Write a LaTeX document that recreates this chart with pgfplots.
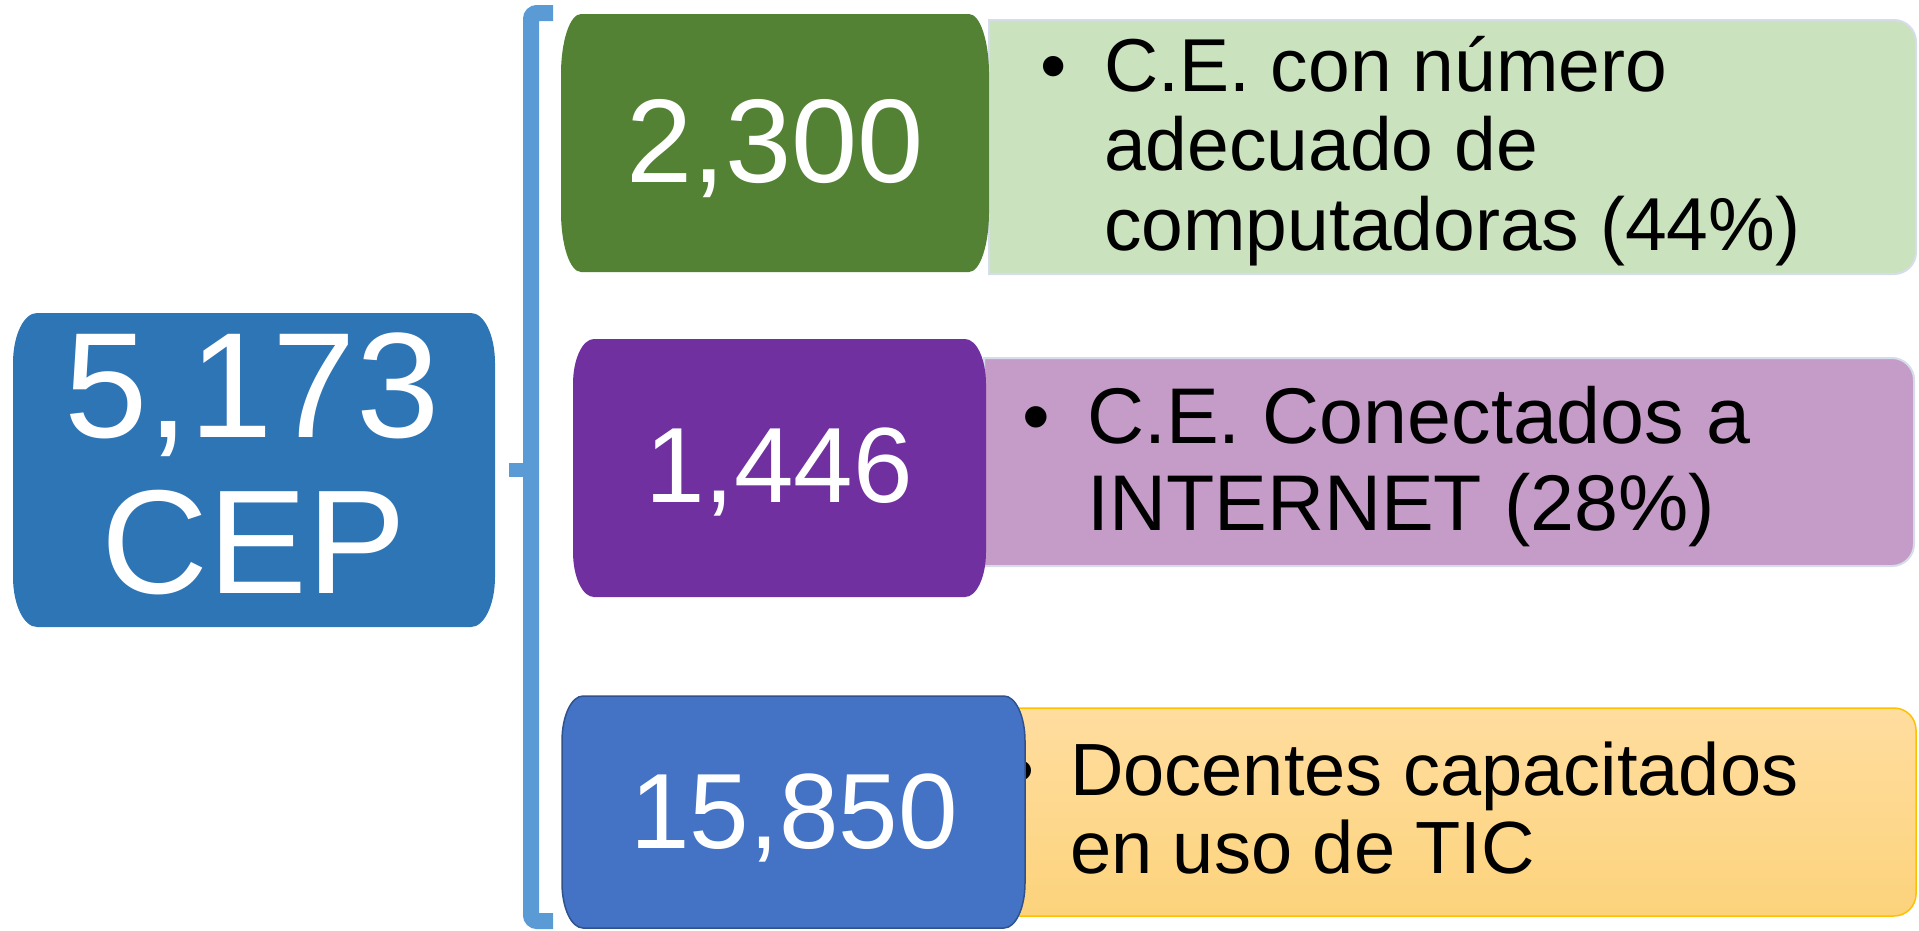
\documentclass[border=0pt]{standalone}
\usepackage{pgfplots}
\pgfplotsset{compat=1.18}
\usepackage{fontspec}
\setmainfont{Liberation Sans}
\usetikzlibrary{calc}
\definecolor{cepblue}{HTML}{2E75B6}
\definecolor{brk}{HTML}{5B9BD5}
\definecolor{dgreen}{HTML}{548235}
\definecolor{lgreen}{HTML}{CAE2BE}
\definecolor{dpurple}{HTML}{7030A0}
\definecolor{lpink}{HTML}{C59CC7}
\definecolor{mblue}{HTML}{4472C4}
\definecolor{mblueb}{HTML}{2F528F}
\definecolor{otop}{HTML}{FFDD9F}
\definecolor{obot}{HTML}{FCD37C}
\definecolor{oborder}{HTML}{FFC000}
\definecolor{faint}{HTML}{D5DDEA}
% box with elliptical corners: style, x1,y1 (top-left), x2,y2 (bottom-right), rx, ry
\newcommand{\ebox}[7]{%
 \path[#1] ($(axis cs:#4,#3)+(-#6pt,0)$) arc[start angle=90,end angle=0,x radius=#6pt,y radius=#7pt]
 -- ($(axis cs:#4,#5)+(0,#7pt)$) arc[start angle=0,end angle=-90,x radius=#6pt,y radius=#7pt]
 -- ($(axis cs:#2,#5)+(#6pt,0)$) arc[start angle=-90,end angle=-180,x radius=#6pt,y radius=#7pt]
 -- ($(axis cs:#2,#3)+(0,-#7pt)$) arc[start angle=180,end angle=90,x radius=#6pt,y radius=#7pt]
 -- cycle;}
% box with rounded right corners only
\newcommand{\rbox}[6]{%
 \path[#1] (axis cs:#2,#3) -- ($(axis cs:#4,#3)+(-#6pt,0)$) arc[start angle=90,end angle=0,radius=#6pt]
 -- ($(axis cs:#4,#5)+(0,#6pt)$) arc[start angle=0,end angle=-90,radius=#6pt]
 -- (axis cs:#2,#5) -- cycle;}
\begin{document}
\begin{tikzpicture}
\begin{axis}[scale only axis, width=1919pt, height=930pt,
  xmin=0, xmax=1919, ymin=0, ymax=930, y dir=reverse,
  hide axis, clip=false]
\addplot[draw=none, mark=none] coordinates {(0,0) (1919,930)};
\path (axis cs:0,0) rectangle (axis cs:1919,930);
% bracket
\draw[brk, line width=16pt, rounded corners=6pt] (axis cs:553,13) -- (axis cs:531,13) -- (axis cs:531,921) -- (axis cs:553,921);
\draw[brk, line width=14pt] (axis cs:509,470) -- (axis cs:531,470);
% left box
\ebox{fill=cepblue}{13}{313}{495}{627}{24}{50}
\node[anchor=base, text=white, font=\fontsize{150}{156}\selectfont] at (axis cs:252,437) {5,173};
\node[anchor=base, text=white, font=\fontsize{148}{156}\selectfont] at (axis cs:254,593) {CEP};
% info boxes
\rbox{fill=lgreen, draw=faint, line width=2pt}{989}{20}{1916}{274}{22}
\rbox{fill=lpink, draw=faint, line width=2pt}{984}{358}{1914}{566}{22}
\rbox{top color=otop, bottom color=obot, draw=oborder, line width=1.5pt}{1004}{708}{1916}{916}{22}
% info texts
\begin{scope}[font=\fontsize{75}{80}\selectfont]
\node[anchor=base west, inner sep=0pt] at (axis cs:1040,91) {•};
\node[anchor=base west, inner sep=0pt] at (axis cs:1104,91) {C.E. con número};
\node[anchor=base west, inner sep=0pt] at (axis cs:1104,170) {adecuado de};
\node[anchor=base west, inner sep=0pt] at (axis cs:1104,250) {computadoras (44\%)};
\end{scope}
\begin{scope}[font=\fontsize{74}{80}\selectfont]
\node[anchor=base west, inner sep=0pt] at (axis cs:1008,795) {•};
\node[anchor=base west, inner sep=0pt] at (axis cs:1070,795) {Docentes capacitados};
\node[anchor=base west, inner sep=0pt] at (axis cs:1070,873) {en uso de TIC};
\end{scope}
\begin{scope}[font=\fontsize{79}{86}\selectfont]
\node[anchor=base west, inner sep=0pt] at (axis cs:1022,443) {•};
\node[anchor=base west, inner sep=0pt] at (axis cs:1087,443) {C.E. Conectados a};
\node[anchor=base west, inner sep=0pt] at (axis cs:1087,530) {INTERNET (28\%)};
\end{scope}
% value boxes
\ebox{fill=dgreen}{561}{14}{989}{272}{20}{60}
\ebox{fill=dpurple}{573}{339}{986}{597}{21}{45}
\ebox{fill=mblue, draw=mblueb, line width=1.5pt}{562}{696}{1025}{928}{21}{45}
\node[anchor=base, text=white, font=\fontsize{119}{124}\selectfont] at (axis cs:775,182) {2,300};
\node[anchor=base, text=white, font=\fontsize{107}{112}\selectfont] at (axis cs:779,502) {1,446};
\node[anchor=base, text=white, font=\fontsize{107}{112}\selectfont] at (axis cs:794,848) {15,850};
\end{axis}
\end{tikzpicture}
\end{document}
